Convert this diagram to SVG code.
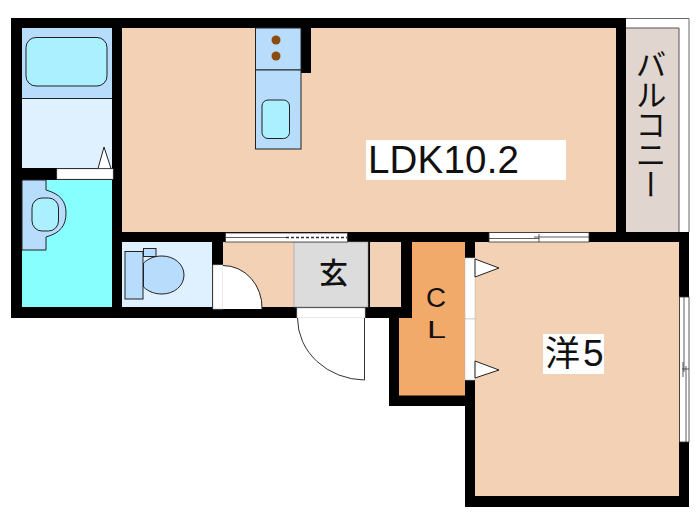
<svg xmlns="http://www.w3.org/2000/svg" width="700" height="525" viewBox="0 0 700 525">
<style>
.fx{stroke:#222;stroke-width:1}
.blue{fill:#b8dcfc}
.aqua{fill:#aaf0ff}
.floor{fill:#f2d1b4}
.win{fill:#fff;stroke:#333;stroke-width:.8}
.lat{font-family:"Liberation Sans",Arial,sans-serif;fill:#111}
.jp{font-family:"Noto Sans CJK JP",sans-serif;fill:#111}
</style>
<rect width="700" height="525" fill="#fff"/>
<g id="balcony">
<path d="M626 18.500H689V232" fill="none" stroke="#666" stroke-width="1"/>
<rect x="626" y="28" width="53" height="204" fill="#e0d6cf"/>
<path d="M626 28H679V232" fill="none" stroke="#555" stroke-width="1"/>
<text class="jp" x="651" y="49" font-size="31" letter-spacing="-1" style="writing-mode:vertical-rl">バルコニー</text>
</g>
<path id="walls" d="M11 18H626V232H689V507H465V406H389V318H11Z" fill="#000"/>
<g id="ldk">
<rect class="floor" x="122" y="28" width="494" height="204"/>
<rect x="366" y="140" width="200" height="40" fill="#fff"/>
<text class="lat" x="368" y="172.500" font-size="38.500" textLength="151">LDK10.2</text>
</g>
<g id="kitchen">
<rect x="301" y="28" width="10" height="45" fill="#000"/>
<rect class="blue fx" x="255.500" y="28" width="45.500" height="42"/>
<rect class="blue fx" x="255.500" y="70" width="45.500" height="79"/>
<circle cx="276" cy="40" r="4.500" fill="#8a4a10"/>
<circle cx="276" cy="56" r="4.500" fill="#8a4a10"/>
<rect class="aqua fx" x="262" y="100" width="27.500" height="38.500" rx="6"/>
</g>
<g id="bath">
<rect class="blue" x="22" y="28" width="90" height="70"/>
<rect x="22" y="98" width="90" height="70" fill="#dff0ff"/>
<path class="fx" d="M22 98.500H112" fill="none"/>
<rect class="aqua fx" x="26" y="37.500" width="81" height="48.500" rx="10"/>
<path class="fx" d="M98 168.500L104 147L111 168.500Z" fill="#fff"/>
<rect x="57" y="169" width="56" height="10" fill="#fff" stroke="#bbb" stroke-width=".5"/>
</g>
<g id="washroom">
<rect x="22" y="180" width="90" height="127" fill="#88ffff"/>
<path class="blue fx" d="M22 180H46V190C60 194 66 201 66 213C66 226 60 233 46 237V250H22Z"/>
<rect class="aqua fx" x="32" y="198" width="26.500" height="33" rx="10"/>
</g>
<g id="toilet">
<rect x="122" y="242" width="90" height="65" fill="#dff0ff"/>
<rect class="blue fx" x="125" y="251.500" width="18" height="47.500"/>
<rect class="blue fx" x="143.500" y="248.500" width="12.500" height="8"/>
<path class="blue fx" d="M143.500 263C149 258 155 256 162 256C174 256 184 264 184 275C184 286 174 294 162 294C155 294 149 292 143.500 287Z"/>
</g>
<g id="hall">
<rect class="floor" x="223" y="242" width="71" height="65"/>
<rect class="floor" x="370" y="242" width="31" height="65"/>
<rect x="294" y="242" width="74" height="65" fill="#dcdcdc" stroke="#999" stroke-width=".6"/>
<text class="jp" x="333.500" y="284" font-size="29" font-weight="500" text-anchor="middle">玄</text>
<rect x="213" y="265" width="10" height="44" fill="#fff" stroke="#bbb" stroke-width=".6"/>
<path d="M223 265.500A39 42 0 0 1 262 309V309H223Z" fill="#fff"/>
<path d="M223 265.500A39 42 0 0 1 262 309" fill="none" stroke="#222"/>
<rect x="297" y="308" width="68" height="10" fill="#fff" stroke="#bbb" stroke-width=".6"/>
<path d="M297.500 318A68 62 0 0 0 364.500 380V318" fill="#fff" stroke="#333" stroke-width="1"/>
</g>
<g id="closet">
<path d="M412 242H465V395.500H399V318H412Z" fill="#f2aa6a"/>
<text class="lat" x="426" y="307" font-size="27" textLength="20" lengthAdjust="spacingAndGlyphs">C</text>
<text class="lat" x="427" y="337.500" font-size="24" textLength="19" lengthAdjust="spacingAndGlyphs">L</text>
</g>
<g id="room5">
<rect class="floor" x="475" y="242" width="204" height="254"/>
<rect x="465" y="258" width="10" height="61" fill="#fff" stroke="#bbb" stroke-width=".6"/>
<rect x="465" y="319" width="10" height="61" fill="#fff" stroke="#bbb" stroke-width=".6"/>
<path class="fx" d="M475 259L499 268L475 277Z" fill="#fff"/>
<path class="fx" d="M475 361L499 370L475 378Z" fill="#fff"/>
<rect x="543" y="334" width="61" height="40" fill="#fff"/>
<text class="jp" x="545" y="366" font-size="35">洋</text>
<text class="lat" x="583" y="365.500" font-size="37">5</text>
</g>
<g id="windows">
<rect class="win" x="225.500" y="233" width="122" height="9"/>
<path d="M225.500 237.500H286" stroke="#333" stroke-width=".8"/>
<path d="M286 237.500H347.500" stroke="#333" stroke-width="1.500" stroke-dasharray="3 2"/>
<rect class="win" x="489" y="232.500" width="100" height="9.500"/>
<path d="M489 238.500H539M534 237H589M539 234V242" stroke="#333" stroke-width=".8" fill="none"/>
<rect class="win" x="679.500" y="297" width="9.500" height="145"/>
<path d="M684 297V372M686 366V442M682 369H689M683 362V377" stroke="#333" stroke-width=".8" fill="none"/>
</g>
</svg>
